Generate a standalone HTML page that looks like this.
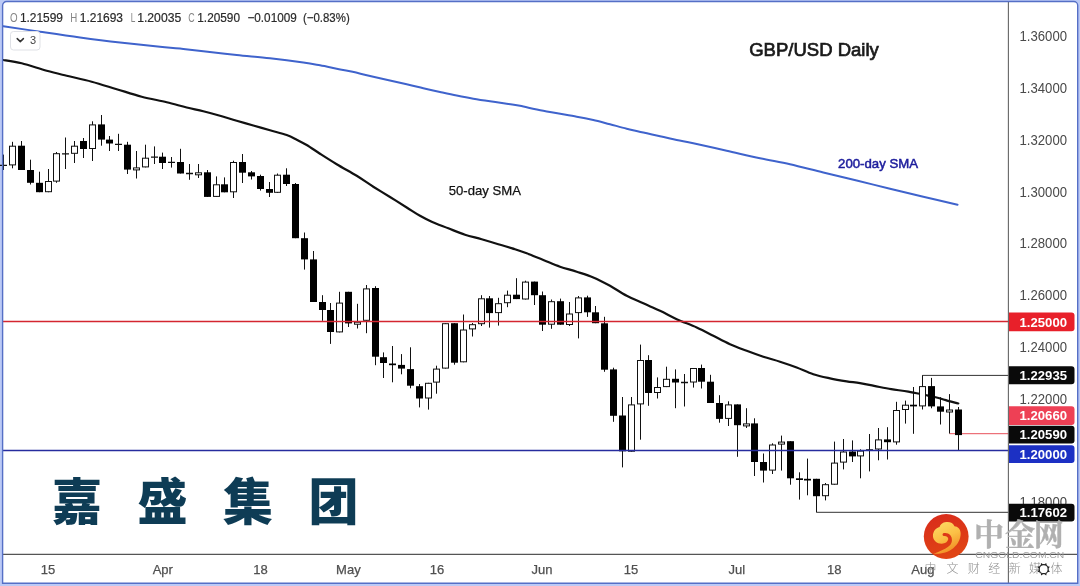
<!DOCTYPE html><html><head><meta charset="utf-8"><title>GBP/USD Daily</title><style>html,body{margin:0;padding:0;background:#bccaf6}body{width:1080px;height:586px;position:relative;overflow:hidden;font-family:"Liberation Sans",sans-serif}</style></head><body><svg width="1080" height="586" viewBox="0 0 1080 586" style="display:block;position:absolute;left:0;top:0;filter:blur(0.45px)" font-family='"Liberation Sans", sans-serif'>
<defs><linearGradient id="rg" x1="0" y1="0" x2="0.3" y2="1"><stop offset="0" stop-color="#d82a1c"/><stop offset="1" stop-color="#e04414"/></linearGradient><linearGradient id="yg" x1="0.2" y1="0" x2="0.6" y2="1"><stop offset="0" stop-color="#fdd864"/><stop offset="0.5" stop-color="#fbc046"/><stop offset="1" stop-color="#f08a22"/></linearGradient></defs>
<rect width="1080" height="586" fill="#bccaf6"/>
<path d="M2.6,583.3V5.5a4,4 0 0 1 4,-4H1073.7a4,4 0 0 1 4,4V583.3Z" fill="#fff"/>
<path d="M922.5,386V375.4H1009" stroke="#333" stroke-width="1" fill="none"/>
<path d="M816.5,496V512.3H1009" stroke="#333" stroke-width="1" fill="none"/>
<path d="M949.5,433.7H1009" stroke="#e8505a" stroke-width="1" fill="none"/>
<path d="M3.3,26.3C9.4,27.2 27.2,29.8 40.0,31.7C52.8,33.6 66.7,35.7 80.0,37.5C93.3,39.3 106.7,41.0 120.0,42.5C133.3,44.0 150.0,45.7 160.0,46.7C170.0,47.7 172.8,47.8 180.0,48.6C187.2,49.4 193.9,50.2 203.3,51.3C212.8,52.4 225.6,53.8 236.7,55.0C247.8,56.2 258.9,57.0 270.0,58.3C281.1,59.5 295.0,61.3 303.3,62.5C311.6,63.7 314.4,64.3 320.0,65.3C325.6,66.3 331.7,67.7 336.7,68.7C341.7,69.7 343.9,70.0 350.0,71.3C356.1,72.6 363.9,74.5 373.3,76.7C382.8,78.9 398.4,82.3 406.7,84.2C415.0,86.1 417.8,87.0 423.3,88.3C428.9,89.6 434.4,90.8 440.0,92.0C445.6,93.2 451.1,94.4 456.7,95.5C462.2,96.6 467.8,97.7 473.3,98.7C478.9,99.7 484.4,100.5 490.0,101.3C495.6,102.1 501.7,103.0 506.7,103.8C511.7,104.5 513.9,104.6 520.0,105.8C526.1,107.0 533.8,109.0 543.3,110.8C552.8,112.6 568.4,115.2 576.7,116.7C585.0,118.2 587.8,118.8 593.3,120.0C598.8,121.2 604.4,122.8 610.0,124.2C615.6,125.7 621.2,127.3 626.7,128.7C632.2,130.1 637.8,131.2 643.3,132.5C648.8,133.8 654.4,134.9 660.0,136.2C665.6,137.4 671.2,138.8 676.7,140.0C682.2,141.2 685.0,141.4 693.3,143.2C701.6,145.0 715.6,148.2 726.7,150.7C737.8,153.2 749.5,156.1 760.0,158.3C770.5,160.6 779.5,161.8 790.0,164.2C800.5,166.6 812.2,169.8 823.3,172.5C834.4,175.2 845.6,177.8 856.7,180.5C867.8,183.2 878.9,186.0 890.0,188.7C901.1,191.4 912.0,194.0 923.3,196.7C934.5,199.4 951.8,203.4 957.5,204.7" stroke="#3f63cc" stroke-width="2" fill="none" stroke-linecap="round"/>
<path d="M3.3,60.0C6.4,60.5 14.5,61.5 21.7,63.3C28.9,65.1 39.2,68.7 46.7,70.8C54.2,72.9 59.2,74.0 66.7,75.8C74.2,77.6 83.4,79.5 91.7,81.7C100.0,83.9 108.4,86.7 116.7,89.2C125.0,91.7 133.4,94.5 141.7,96.7C150.0,98.9 159.2,100.4 166.7,102.2C174.2,104.0 180.6,106.0 186.7,107.5C192.8,109.0 197.8,109.9 203.3,111.3C208.9,112.7 214.4,114.2 220.0,115.8C225.6,117.4 231.1,119.2 236.7,120.8C242.2,122.4 247.8,123.9 253.3,125.5C258.9,127.1 264.4,128.7 270.0,130.3C275.6,131.9 282.2,133.4 286.7,135.0C291.1,136.6 293.4,138.0 296.7,139.7C300.0,141.4 302.8,142.7 306.7,145.0C310.6,147.3 315.0,150.5 320.0,153.7C325.0,156.9 330.6,160.5 336.7,164.2C342.8,167.9 350.6,172.1 356.7,175.8C362.8,179.6 367.8,183.2 373.3,186.7C378.9,190.2 384.4,193.5 390.0,197.0C395.6,200.5 401.7,204.4 406.7,207.5C411.7,210.6 415.8,213.4 420.0,215.8C424.2,218.2 427.0,219.6 431.7,221.7C436.4,223.8 442.8,226.1 448.3,228.3C453.9,230.5 459.4,232.9 465.0,234.7C470.6,236.5 476.1,237.6 481.7,239.2C487.2,240.8 492.8,242.5 498.3,244.2C503.9,245.9 510.3,247.7 515.0,249.2C519.7,250.7 522.0,251.5 526.7,253.3C531.4,255.1 537.8,257.8 543.3,260.0C548.8,262.2 554.4,264.8 560.0,266.7C565.6,268.6 571.2,269.9 576.7,271.7C582.2,273.5 587.8,275.1 593.3,277.5C598.8,279.9 604.4,282.8 610.0,285.8C615.6,288.9 621.2,292.9 626.7,295.8C632.2,298.7 637.8,300.8 643.3,303.3C648.8,305.8 654.4,308.2 660.0,310.8C665.6,313.4 670.6,316.4 676.7,319.2C682.8,322.0 690.6,324.7 696.7,327.5C702.8,330.3 707.8,333.0 713.3,335.8C718.8,338.6 724.4,341.7 730.0,344.2C735.6,346.7 741.2,348.7 746.7,350.8C752.2,352.9 757.8,354.9 763.3,356.7C768.8,358.5 774.4,359.9 780.0,361.7C785.6,363.5 791.2,365.4 796.7,367.5C802.2,369.6 807.8,372.4 813.3,374.2C818.8,376.0 824.4,377.1 830.0,378.3C835.6,379.5 841.7,380.5 846.7,381.3C851.7,382.1 855.4,382.4 860.0,383.2C864.6,384.0 868.9,384.9 874.1,385.9C879.3,386.9 885.5,388.2 891.2,389.2C896.9,390.1 902.6,390.6 908.3,391.6C914.0,392.6 920.8,394.1 925.3,395.0C929.8,395.9 932.2,396.3 935.6,397.2C939.0,398.1 942.0,399.1 945.8,400.1C949.6,401.2 956.2,402.9 958.3,403.5" stroke="#111" stroke-width="2.2" fill="none" stroke-linecap="round"/>
<path d="M3.5,154.6V170.0M12.5,141.8V168.3M21.5,141.0V170.0M30.5,159.7V184.5M39.5,171.7V192.2M48.5,169.0V192.2M56.5,152.0V182.8M65.5,137.5V169.0M74.5,141.0V163.0M83.5,138.0V158.0M92.5,121.3V161.0M101.5,115.0V145.7M109.5,136.0V151.0M118.5,133.8V151.0M127.5,141.8V174.0M136.5,151.0V178.5M145.5,144.7V167.4M154.5,146.4V164.0M162.5,152.6V169.0M171.5,157.0V167.6M180.5,148.8V173.5M189.5,164.0V179.8M198.5,164.0V178.0M207.5,170.0V196.9M216.5,176.4V196.9M224.5,177.4V192.3M233.5,160.7V198.0M242.5,154.0V183.0M251.5,171.0V179.5M260.5,174.7V190.6M269.5,182.0V197.0M277.5,173.5V193.0M286.5,168.3V186.0M295.5,183.0V238.2M304.5,232.5V269.6M313.5,251.0V302.0M322.5,295.2V320.8M330.5,303.0V343.9M339.5,291.8V332.4M348.5,291.8V327.0M357.5,303.8V328.5M366.5,285.0V333.2M375.5,286.2V365.2M383.5,352.4V378.0M392.5,346.0V382.3M401.5,354.1V374.3M410.5,347.3V388.3M419.5,384.0V407.4M428.5,382.8V409.6M436.5,365.7V393.7M445.5,323.2V368.6M454.5,323.2V364.7M463.5,314.5V362.3M472.5,323.0V336.5M481.5,295.2V326.0M489.5,296.0V327.6M498.5,297.8V325.6M507.5,290.6V307.2M516.5,278.2V299.1M525.5,280.7V299.5M534.5,281.6V305.0M542.5,291.5V331.0M551.5,299.5V328.8M560.5,298.6V324.7M569.5,302.0V326.0M578.5,296.0V338.4M587.5,295.7V316.9M595.5,306.0V323.2M604.5,316.8V371.8M613.5,367.7V421.8M622.5,397.0V467.4M631.5,397.0V451.7M640.5,344.6V439.7M648.5,355.2V405.8M657.5,377.4V398.5M666.5,366.7V387.1M675.5,369.4V408.2M684.5,374.0V406.5M693.5,368.0V387.6M701.5,364.6V388.5M710.5,374.8V403.0M719.5,395.2V422.7M728.5,401.3V426.0M737.5,404.4V456.8M746.5,408.2V428.0M754.5,418.3V476.0M763.5,453.5V482.5M772.5,443.3V474.0M781.5,435.6V470.6M790.5,441.2V484.7M799.5,472.3V499.6M807.5,458.6V495.3M816.5,478.8V512.2M825.5,483.0V500.4M834.5,441.6V484.7M843.5,439.0V469.4M852.5,440.4V462.0M860.5,449.3V478.3M869.5,434.0V471.4M878.5,428.0V460.3M887.5,427.2V459.5M896.5,401.8V444.7M905.5,400.6V423.6M913.5,387.0V433.8M922.5,375.4V409.5M931.5,377.9V408.3M940.5,397.2V424.5M949.5,394.1V433.5M958.5,407.0V450.1" stroke="#111" stroke-width="1" fill="none"/>
<path d="M0.0,165.4H7.0M62.0,153.8H69.0M115.0,144.4H122.0M151.0,157.2H158.0M168.0,162.4H175.0M186.0,173.5H193.0M681.0,382.5H688.0M866.0,449.8H873.0" stroke="#111" stroke-width="1.3" fill="none"/>
<g fill="#000"><rect x="18.0" y="145.7" width="7" height="24.3"/><rect x="27.0" y="170.0" width="7" height="12.8"/><rect x="36.0" y="182.8" width="7" height="9.4"/><rect x="80.0" y="141.0" width="7" height="8.0"/><rect x="98.0" y="124.4" width="7" height="15.2"/><rect x="106.0" y="139.6" width="7" height="3.9"/><rect x="124.0" y="144.7" width="7" height="24.9"/><rect x="159.0" y="156.7" width="7" height="6.3"/><rect x="177.0" y="162.0" width="7" height="11.5"/><rect x="204.0" y="172.3" width="7" height="24.6"/><rect x="221.0" y="184.3" width="7" height="8.0"/><rect x="239.0" y="162.0" width="7" height="10.7"/><rect x="248.0" y="172.3" width="7" height="4.1"/><rect x="257.0" y="176.0" width="7" height="13.0"/><rect x="266.0" y="189.0" width="7" height="3.8"/><rect x="283.0" y="174.7" width="7" height="9.3"/><rect x="292.0" y="184.0" width="7" height="54.2"/><rect x="301.0" y="238.2" width="7" height="21.2"/><rect x="310.0" y="259.4" width="7" height="42.6"/><rect x="319.0" y="302.0" width="7" height="8.0"/><rect x="327.0" y="310.0" width="7" height="22.0"/><rect x="345.0" y="291.8" width="7" height="31.6"/><rect x="372.0" y="288.0" width="7" height="68.7"/><rect x="380.0" y="357.2" width="7" height="5.8"/><rect x="389.0" y="363.5" width="7" height="1.7"/><rect x="398.0" y="364.9" width="7" height="3.7"/><rect x="407.0" y="369.1" width="7" height="16.6"/><rect x="416.0" y="386.2" width="7" height="12.3"/><rect x="451.0" y="323.2" width="7" height="39.5"/><rect x="486.0" y="298.3" width="7" height="14.8"/><rect x="513.0" y="294.7" width="7" height="4.4"/><rect x="531.0" y="281.6" width="7" height="13.6"/><rect x="539.0" y="295.2" width="7" height="29.5"/><rect x="557.0" y="301.2" width="7" height="23.5"/><rect x="584.0" y="297.4" width="7" height="14.9"/><rect x="592.0" y="312.3" width="7" height="10.9"/><rect x="601.0" y="323.3" width="7" height="46.4"/><rect x="610.0" y="369.4" width="7" height="46.4"/><rect x="619.0" y="415.5" width="7" height="35.8"/><rect x="645.0" y="360.0" width="7" height="33.0"/><rect x="672.0" y="378.8" width="7" height="3.7"/><rect x="698.0" y="368.0" width="7" height="13.7"/><rect x="707.0" y="381.7" width="7" height="21.3"/><rect x="716.0" y="403.0" width="7" height="15.9"/><rect x="734.0" y="404.4" width="7" height="20.8"/><rect x="751.0" y="423.4" width="7" height="38.6"/><rect x="760.0" y="462.0" width="7" height="8.6"/><rect x="787.0" y="441.2" width="7" height="37.1"/><rect x="796.0" y="478.3" width="7" height="1.7"/><rect x="804.0" y="478.8" width="7" height="1.7"/><rect x="813.0" y="478.8" width="7" height="17.4"/><rect x="849.0" y="451.5" width="7" height="4.9"/><rect x="884.0" y="439.4" width="7" height="2.8"/><rect x="910.0" y="404.7" width="7" height="1.7"/><rect x="928.0" y="386.1" width="7" height="20.3"/><rect x="937.0" y="406.4" width="7" height="5.3"/><rect x="955.0" y="409.5" width="7" height="25.6"/></g>
<g fill="#fff" stroke="#111" stroke-width="1"><rect x="9.5" y="146.2" width="6" height="18.7"/><rect x="45.5" y="181.5" width="6" height="10.2"/><rect x="53.5" y="153.7" width="6" height="27.4"/><rect x="71.5" y="146.2" width="6" height="7.1"/><rect x="89.5" y="124.9" width="6" height="23.6"/><rect x="133.5" y="167.9" width="6" height="2.0"/><rect x="142.5" y="158.2" width="6" height="8.7"/><rect x="195.5" y="172.8" width="6" height="2.0"/><rect x="213.5" y="184.8" width="6" height="11.6"/><rect x="230.5" y="162.5" width="6" height="29.3"/><rect x="274.5" y="175.2" width="6" height="17.1"/><rect x="336.5" y="303.1" width="6" height="28.8"/><rect x="354.5" y="322.2" width="6" height="2.0"/><rect x="363.5" y="288.9" width="6" height="31.4"/><rect x="425.5" y="383.3" width="6" height="14.7"/><rect x="433.5" y="369.1" width="6" height="13.0"/><rect x="442.5" y="323.7" width="6" height="44.4"/><rect x="460.5" y="330.0" width="6" height="31.8"/><rect x="469.5" y="324.7" width="6" height="4.2"/><rect x="478.5" y="298.8" width="6" height="24.9"/><rect x="495.5" y="303.7" width="6" height="8.9"/><rect x="504.5" y="295.2" width="6" height="7.5"/><rect x="522.5" y="282.1" width="6" height="16.9"/><rect x="548.5" y="301.7" width="6" height="22.5"/><rect x="566.5" y="314.0" width="6" height="10.5"/><rect x="575.5" y="297.9" width="6" height="14.7"/><rect x="628.5" y="404.9" width="6" height="46.3"/><rect x="637.5" y="360.5" width="6" height="43.4"/><rect x="654.5" y="387.5" width="6" height="5.0"/><rect x="663.5" y="379.3" width="6" height="7.3"/><rect x="690.5" y="368.5" width="6" height="13.5"/><rect x="725.5" y="404.9" width="6" height="13.5"/><rect x="743.5" y="423.9" width="6" height="2.0"/><rect x="769.5" y="445.0" width="6" height="25.1"/><rect x="778.5" y="442.1" width="6" height="2.0"/><rect x="822.5" y="484.7" width="6" height="11.0"/><rect x="831.5" y="463.1" width="6" height="21.1"/><rect x="840.5" y="452.0" width="6" height="10.1"/><rect x="857.5" y="451.1" width="6" height="4.8"/><rect x="875.5" y="439.9" width="6" height="9.1"/><rect x="893.5" y="410.5" width="6" height="31.4"/><rect x="902.5" y="405.2" width="6" height="4.3"/><rect x="919.5" y="386.6" width="6" height="19.3"/><rect x="946.5" y="410.0" width="6" height="2.0"/></g>
<path d="M3,321.5H1009" stroke="#d42630" stroke-width="1.5" fill="none"/>
<path d="M3,450.6H1009" stroke="#262c9e" stroke-width="1.5" fill="none"/>
<path d="M3,554.3H1078" stroke="#555" stroke-width="1.2" fill="none"/>
<path d="M1008.4,2V583" stroke="#666" stroke-width="1.1" fill="none"/>
<text x="1043.3" y="41.4" font-size="14" fill="#4a4a4a" text-anchor="middle" textLength="47.5" lengthAdjust="spacingAndGlyphs">1.36000</text>
<text x="1043.3" y="93.2" font-size="14" fill="#4a4a4a" text-anchor="middle" textLength="47.5" lengthAdjust="spacingAndGlyphs">1.34000</text>
<text x="1043.3" y="144.9" font-size="14" fill="#4a4a4a" text-anchor="middle" textLength="47.5" lengthAdjust="spacingAndGlyphs">1.32000</text>
<text x="1043.3" y="196.7" font-size="14" fill="#4a4a4a" text-anchor="middle" textLength="47.5" lengthAdjust="spacingAndGlyphs">1.30000</text>
<text x="1043.3" y="248.4" font-size="14" fill="#4a4a4a" text-anchor="middle" textLength="47.5" lengthAdjust="spacingAndGlyphs">1.28000</text>
<text x="1043.3" y="300.2" font-size="14" fill="#4a4a4a" text-anchor="middle" textLength="47.5" lengthAdjust="spacingAndGlyphs">1.26000</text>
<text x="1043.3" y="351.9" font-size="14" fill="#4a4a4a" text-anchor="middle" textLength="47.5" lengthAdjust="spacingAndGlyphs">1.24000</text>
<text x="1043.3" y="403.7" font-size="14" fill="#4a4a4a" text-anchor="middle" textLength="47.5" lengthAdjust="spacingAndGlyphs">1.22000</text>
<text x="1043.3" y="507.2" font-size="14" fill="#4a4a4a" text-anchor="middle" textLength="47.5" lengthAdjust="spacingAndGlyphs">1.18000</text>
<path d="M1009,312.6H1071.5a3,3 0 0 1 3,3V328.2a3,3 0 0 1 -3,3H1009Z" fill="#e8202a"/>
<text x="1043.3" y="326.6" font-size="13" font-weight="bold" fill="#fff" text-anchor="middle" textLength="47.5" lengthAdjust="spacingAndGlyphs">1.25000</text>
<path d="M1009,366.3H1071.5a3,3 0 0 1 3,3V381.3a3,3 0 0 1 -3,3H1009Z" fill="#0a0a0a"/>
<text x="1043.3" y="380.0" font-size="13" font-weight="bold" fill="#fff" text-anchor="middle" textLength="47.5" lengthAdjust="spacingAndGlyphs">1.22935</text>
<path d="M1009,406.3H1071.5a3,3 0 0 1 3,3V422a3,3 0 0 1 -3,3H1009Z" fill="#ee4055"/>
<text x="1043.3" y="420.3" font-size="13" font-weight="bold" fill="#fff" text-anchor="middle" textLength="47.5" lengthAdjust="spacingAndGlyphs">1.20660</text>
<path d="M1009,425.8H1071.5a3,3 0 0 1 3,3V440.6a3,3 0 0 1 -3,3H1009Z" fill="#0a0a0a"/>
<text x="1043.3" y="439.4" font-size="13" font-weight="bold" fill="#fff" text-anchor="middle" textLength="47.5" lengthAdjust="spacingAndGlyphs">1.20590</text>
<path d="M1009,445.2H1071.5a3,3 0 0 1 3,3V460a3,3 0 0 1 -3,3H1009Z" fill="#1c30c4"/>
<text x="1043.3" y="458.8" font-size="13" font-weight="bold" fill="#fff" text-anchor="middle" textLength="47.5" lengthAdjust="spacingAndGlyphs">1.20000</text>
<path d="M1009,503.8H1071.5a3,3 0 0 1 3,3V518.6a3,3 0 0 1 -3,3H1009Z" fill="#0a0a0a"/>
<text x="1043.3" y="517.4" font-size="13" font-weight="bold" fill="#fff" text-anchor="middle" textLength="47.5" lengthAdjust="spacingAndGlyphs">1.17602</text>
<text x="48.1" y="573.8" font-size="13" fill="#505050" stroke="#505050" stroke-width="0.25" text-anchor="middle">15</text>
<text x="162.8" y="573.8" font-size="13" fill="#505050" stroke="#505050" stroke-width="0.25" text-anchor="middle">Apr</text>
<text x="260.4" y="573.8" font-size="13" fill="#505050" stroke="#505050" stroke-width="0.25" text-anchor="middle">18</text>
<text x="348.4" y="573.8" font-size="13" fill="#505050" stroke="#505050" stroke-width="0.25" text-anchor="middle">May</text>
<text x="436.9" y="573.8" font-size="13" fill="#505050" stroke="#505050" stroke-width="0.25" text-anchor="middle">16</text>
<text x="542.1" y="573.8" font-size="13" fill="#505050" stroke="#505050" stroke-width="0.25" text-anchor="middle">Jun</text>
<text x="630.9" y="573.8" font-size="13" fill="#505050" stroke="#505050" stroke-width="0.25" text-anchor="middle">15</text>
<text x="736.9" y="573.8" font-size="13" fill="#505050" stroke="#505050" stroke-width="0.25" text-anchor="middle">Jul</text>
<text x="834.3" y="573.8" font-size="13" fill="#505050" stroke="#505050" stroke-width="0.25" text-anchor="middle">18</text>
<text x="922.9" y="573.8" font-size="13" fill="#505050" stroke="#505050" stroke-width="0.25" text-anchor="middle">Aug</text>
<text x="9.9" y="22.1" font-size="12" fill="#858585" textLength="7.6" lengthAdjust="spacingAndGlyphs">O</text>
<text x="19.9" y="22.1" font-size="12.5" fill="#2a2a2a" stroke="#2a2a2a" stroke-width="0.2" textLength="43.1" lengthAdjust="spacingAndGlyphs">1.21599</text>
<text x="70.2" y="22.1" font-size="12" fill="#858585" textLength="7.0" lengthAdjust="spacingAndGlyphs">H</text>
<text x="79.8" y="22.1" font-size="12.5" fill="#2a2a2a" stroke="#2a2a2a" stroke-width="0.2" textLength="43.2" lengthAdjust="spacingAndGlyphs">1.21693</text>
<text x="130.7" y="22.1" font-size="12" fill="#858585" textLength="4.6" lengthAdjust="spacingAndGlyphs">L</text>
<text x="137.2" y="22.1" font-size="12.5" fill="#2a2a2a" stroke="#2a2a2a" stroke-width="0.2" textLength="44.0" lengthAdjust="spacingAndGlyphs">1.20035</text>
<text x="188.2" y="22.1" font-size="12" fill="#858585" textLength="6.4" lengthAdjust="spacingAndGlyphs">C</text>
<text x="197.3" y="22.1" font-size="12.5" fill="#2a2a2a" stroke="#2a2a2a" stroke-width="0.2" textLength="42.7" lengthAdjust="spacingAndGlyphs">1.20590</text>
<text x="247.5" y="22.1" font-size="12.5" fill="#2a2a2a" stroke="#2a2a2a" stroke-width="0.2" textLength="49.2" lengthAdjust="spacingAndGlyphs">−0.01009</text>
<text x="303" y="22.1" font-size="12.5" fill="#2a2a2a" stroke="#2a2a2a" stroke-width="0.2" textLength="46.7" lengthAdjust="spacingAndGlyphs">(−0.83%)</text>
<rect x="10.5" y="31.5" width="29.5" height="18.5" rx="3" fill="#fff" stroke="#dfe1e6" stroke-width="1"/>
<path d="M17.2,38.6L20.3,41.6L23.4,38.6" stroke="#333" stroke-width="1.5" fill="none" stroke-linecap="round" stroke-linejoin="round"/>
<text x="33" y="44.4" font-size="11" fill="#444" text-anchor="middle">3</text>
<text x="814" y="55.6" font-size="18.5" fill="#1a1a1a" stroke="#1a1a1a" stroke-width="0.7" text-anchor="middle" textLength="129.6" lengthAdjust="spacingAndGlyphs">GBP/USD Daily</text>
<text x="484.8" y="194.7" font-size="13.5" fill="#111" stroke="#111" stroke-width="0.25" text-anchor="middle" textLength="72.3" lengthAdjust="spacingAndGlyphs">50-day SMA</text>
<text x="878.1" y="167.6" font-size="13" fill="#1c1c9c" stroke="#1c1c9c" stroke-width="0.5" text-anchor="middle" textLength="80" lengthAdjust="spacingAndGlyphs">200-day SMA</text>
<g fill="#0e3c55" stroke="#0e3c55" stroke-width="0" opacity="1" font-family='"Liberation Sans", "Noto Sans CJK SC", sans-serif' font-weight="900" font-size="50"><text x="52" y="520.4">嘉</text><text x="137.6" y="520.4">盛</text><text x="223.1" y="520.4">集</text><text x="308.4" y="520.4">团</text></g>
<circle cx="946.2" cy="536.5" r="22.4" fill="url(#rg)"/>
<path transform="translate(920,510) scale(0.08873)" d="M150,492C235,497 315,480 375,430C430,385 458,325 458,265C458,215 425,183 388,183C378,148 335,130 295,136C255,140 226,163 220,193C178,203 146,243 146,290C146,342 190,380 245,380C285,380 312,358 318,330C322,305 300,290 268,292C250,292 250,262 270,260C325,252 362,290 360,340C358,392 318,420 265,445C225,465 185,482 150,492Z" fill="url(#yg)"/>
<g fill="#b0b0b0" stroke="#b0b0b0" stroke-width="0.4" opacity="1" font-family='"Liberation Serif", "Noto Serif CJK SC", serif' font-weight="bold" font-size="30"><text x="974.1" y="544.5">中</text><text x="1005" y="544.5">金</text><text x="1033.8" y="544.5">网</text></g>
<text x="1019.8" y="557.7" font-size="8.2" fill="#9e9e9e" text-anchor="middle" textLength="89" lengthAdjust="spacingAndGlyphs">CNGOLD.COM.CN</text>
<g fill="#909090" font-family='"Liberation Sans", "Noto Sans CJK SC", sans-serif' font-weight="300" font-size="12"><text x="924.5" y="572.6">中</text><text x="946.5" y="572.6">文</text><text x="967.7" y="572.6">财</text><text x="988.2" y="572.6">经</text><text x="1008.7" y="572.6">新</text><text x="1029.1" y="572.6">媒</text><text x="1050.4" y="572.6">体</text></g>
<path d="M1048.38,569.64L1049.89,571.76L1047.32,572.20ZM1046.70,572.82L1046.26,575.39L1044.14,573.88ZM1043.26,573.88L1041.14,575.39L1040.70,572.82ZM1040.08,572.20L1037.51,571.76L1039.02,569.64ZM1039.02,568.76L1037.51,566.64L1040.08,566.20ZM1040.70,565.58L1041.14,563.01L1043.26,564.52ZM1044.14,564.52L1046.26,563.01L1046.70,565.58ZM1047.32,566.20L1049.89,566.64L1048.38,568.76Z" fill="#222"/>
<circle cx="1043.7" cy="569.2" r="4.5" fill="#fff" stroke="#222" stroke-width="1.2"/>
<path d="M2.6,583.3V5.5a4,4 0 0 1 4,-4H1073.7a4,4 0 0 1 4,4V583.3Z" fill="none" stroke="#556fc6" stroke-width="1.4"/>
</svg></body></html>
